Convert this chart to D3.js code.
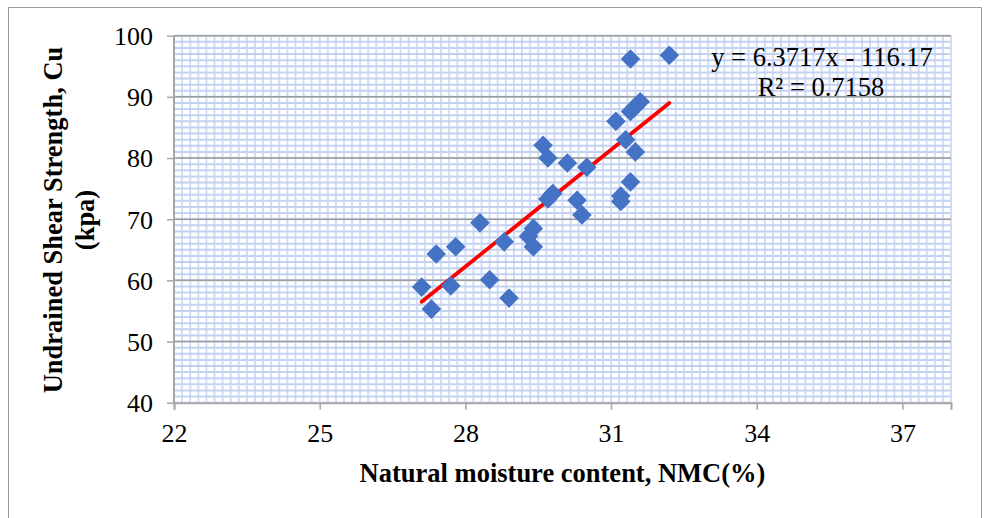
<!DOCTYPE html>
<html>
<head>
<meta charset="utf-8">
<script src="https://cdn.jsdelivr.net/npm/d3@7/dist/d3.min.js"></script>
<style>
  html, body { margin: 0; padding: 0; background: #ffffff; }
  svg { display: block; }
  text { font-family: "Liberation Serif", "Times New Roman", serif; fill: #000; }
</style>
</head>
<body>
<script>
// ---- Data ----
const nmc = [27.1, 27.3, 27.4, 27.7, 27.8, 28.3, 28.5, 28.8, 28.9, 29.3, 29.4, 29.4, 29.6, 29.7, 29.7, 29.8,
             30.1, 30.3, 30.4, 30.5, 31.1, 31.2, 31.2, 31.3, 31.5, 31.4, 31.4, 32.2, 31.6, 31.4, 31.5];
const cu  = [58.9, 55.3, 64.3, 59.1, 65.5, 69.4, 60.1, 66.3, 57.1, 67.2, 68.5, 65.5, 82.1, 80.0, 73.3, 74.2,
             79.2, 73.1, 70.7, 78.5, 86.0, 73.8, 72.9, 83.0, 81.0, 76.1, 96.2, 96.8, 89.2, 87.6, 88.4];
const trendSlope = 6.3717;
const trendIntercept = -116.17;
const equationLabel = "y = 6.3717x - 116.17";
const r2Label = "R² = 0.7158";
const xTicks = [22, 25, 28, 31, 34, 37];
const yTicks = [40, 50, 60, 70, 80, 90, 100];
const xTitle = "Natural moisture content, NMC(%)";
const yTitleLines = ["Undrained Shear Strength, Cu", "(kpa)"];

// ---- Layout ----
const W = 984, H = 518;
const pL = 174, pR = 951, pT = 35.7, pB = 402.7;

const svg = d3.select("body").append("svg").attr("width", W).attr("height", H);

// outer chart border
svg.append("path")
  .attr("d", `M8.5,${H + 2} L8.5,7.5 L981.5,7.5 L981.5,${H + 2}`)
  .attr("fill", "none").attr("stroke", "#9a9a9a").attr("stroke-width", 1);

const x = d3.scaleLinear().domain([22, 38]).range([pL, pR]);
const y = d3.scaleLinear().domain([40, 100]).range([pB, pT]);

// minor grid
const g = svg.append("g");
const xMinor = d3.range(0, 16 * 6 + 1).map(i => 22 + i / 6);
const yMinor = d3.range(40, 101, 1);
g.selectAll("line.vminor").data(xMinor).enter().append("line")
  .attr("x1", d => x(d)).attr("x2", d => x(d))
  .attr("y1", pT).attr("y2", pB)
  .attr("stroke", "#d3dcf5").attr("stroke-width", 2);
g.selectAll("line.hminor").data(yMinor).enter().append("line")
  .attr("x1", pL).attr("x2", pR)
  .attr("y1", d => y(d)).attr("y2", d => y(d))
  .attr("stroke", "#c4d2f2").attr("stroke-width", 2);

// major horizontal grid
g.selectAll("line.hmajor").data(yTicks.filter(d => d > 40)).enter().append("line")
  .attr("x1", pL).attr("x2", pR)
  .attr("y1", d => y(d)).attr("y2", d => y(d))
  .attr("stroke", "#9c9c9c").attr("stroke-width", 1.5);

// axes
const yAxis = d3.axisLeft(y).tickValues(yTicks).tickSize(7).tickPadding(14).tickFormat(d3.format("d"));
const xAxis = d3.axisBottom(x).tickValues(xTicks).tickSize(7).tickPadding(14).tickFormat(d3.format("d"));

const ya = svg.append("g").attr("transform", `translate(${pL},0)`).call(yAxis);
const xa = svg.append("g").attr("transform", `translate(0,${pB})`).call(xAxis);
[ya, xa].forEach(a => {
  a.select(".domain").attr("stroke", "#a6a6a6").attr("stroke-width", 2);
  a.selectAll(".tick line").attr("stroke", "#a6a6a6").attr("stroke-width", 1.5);
  a.selectAll(".tick text").attr("font-family", "'Liberation Serif', 'Times New Roman', serif")
    .attr("font-size", 26).attr("fill", "#000");
});
ya.select(".domain").attr("d", `M0,${pT}V${pB}`);
ya.selectAll(".tick text").attr("dy", "0.34em");
xa.selectAll(".tick text").attr("dy", "0.71em");

// trendline
const xMin = d3.min(nmc), xMax = d3.max(nmc);
svg.append("line")
  .attr("x1", x(xMin)).attr("y1", y(trendSlope * xMin + trendIntercept))
  .attr("x2", x(xMax)).attr("y2", y(trendSlope * xMax + trendIntercept))
  .attr("stroke", "#ff0000").attr("stroke-width", 3.8).attr("stroke-linecap", "round");

// points (diamonds)
const pts = nmc.map((v, i) => ({ x: v, y: cu[i] }));
const r = 9.8;
svg.append("g").selectAll("path").data(pts).enter().append("path")
  .attr("d", `M0,${-r}L${r},0L0,${r}L${-r},0Z`)
  .attr("transform", d => `translate(${x(d.x)},${y(d.y)})`)
  .attr("fill", "#4472c4");

// equation labels
svg.append("text").attr("x", 822).attr("y", 66).attr("text-anchor", "middle")
  .attr("font-size", 26.5).text(equationLabel);
svg.append("text").attr("x", 821).attr("y", 96).attr("text-anchor", "middle")
  .attr("font-size", 26.5).text(r2Label);

// axis titles
svg.append("text").attr("x", (pL + pR) / 2).attr("y", 482).attr("text-anchor", "middle")
  .attr("font-size", 26.5).attr("font-weight", "bold").text(xTitle);

const yt = svg.append("text").attr("transform", "translate(0,220) rotate(-90)")
  .attr("text-anchor", "middle").attr("font-size", 26.5).attr("font-weight", "bold");
yt.append("tspan").attr("x", 0).attr("y", 62).text(yTitleLines[0]);
yt.append("tspan").attr("x", 0).attr("y", 94).text(yTitleLines[1]);
</script>
</body>
</html>
